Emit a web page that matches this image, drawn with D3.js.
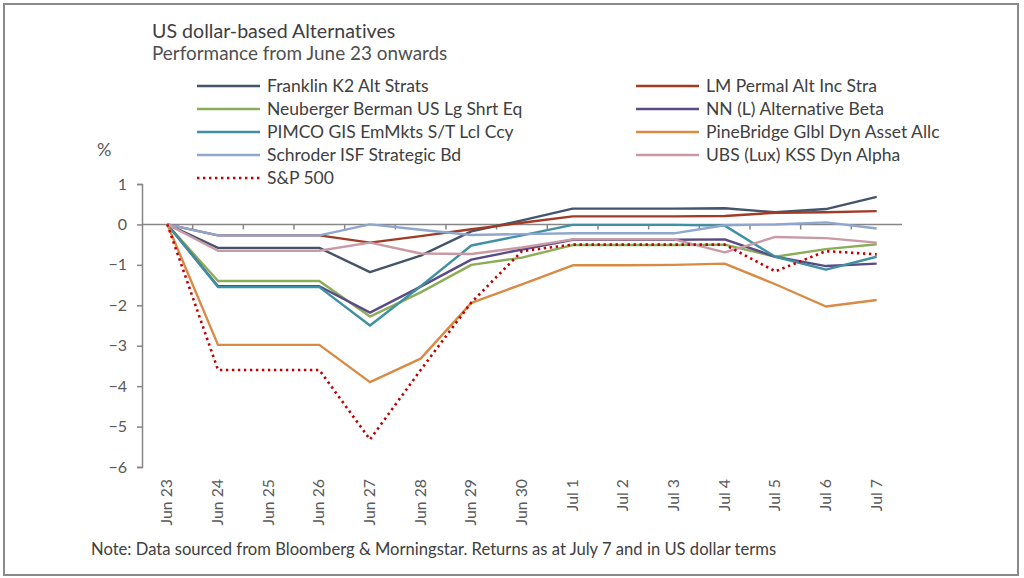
<!DOCTYPE html>
<html>
<head>
<meta charset="utf-8">
<script src="https://cdn.jsdelivr.net/npm/d3@7"></script>
<style>
  html, body { margin: 0; padding: 0; background: #fff; }
  svg { display: block; font-family: Lato, "Noto Sans", sans-serif; font-variant-ligatures: none; font-feature-settings: "liga" 0; }
</style>
</head>
<body>
<svg id="chart" width="1024" height="578"></svg>
<script>
const categories = ["Jun 23","Jun 24","Jun 25","Jun 26","Jun 27","Jun 28","Jun 29","Jun 30","Jul 1","Jul 2","Jul 3","Jul 4","Jul 5","Jul 6","Jul 7"];

const franklin   = [0,-0.58,-0.58,-0.58,-1.18,-0.77,-0.17, 0.10, 0.39, 0.39, 0.39, 0.40, 0.30, 0.38, 0.68];
const lmPermal   = [0,-0.27,-0.27,-0.27,-0.45,-0.29,-0.12, 0.04, 0.20, 0.20, 0.20, 0.21, 0.29, 0.30, 0.33];
const neuberger  = [0,-1.40,-1.40,-1.40,-2.28,-1.68,-1.00,-0.82,-0.51,-0.51,-0.51,-0.50,-0.80,-0.61,-0.49];
const nnAltBeta  = [0,-1.53,-1.53,-1.53,-2.18,-1.54,-0.87,-0.62,-0.38,-0.38,-0.38,-0.37,-0.80,-1.03,-0.97];
const pimco      = [0,-1.55,-1.55,-1.55,-2.50,-1.53,-0.52,-0.27,-0.01,-0.01,-0.01,-0.03,-0.80,-1.12,-0.80];
const pineBridge = [0,-2.98,-2.98,-2.98,-3.90,-3.32,-1.94,-1.48,-1.01,-1.01,-1.00,-0.97,-1.48,-2.03,-1.87];
const schroder   = [0,-0.27,-0.27,-0.27, 0.00,-0.13,-0.26,-0.24,-0.22,-0.22,-0.22,-0.02, 0.00, 0.05,-0.10];
const ubs        = [0,-0.65,-0.65,-0.65,-0.45,-0.72,-0.73,-0.57,-0.37,-0.37,-0.37,-0.69,-0.31,-0.34,-0.45];
const sp500      = [0,-3.60,-3.60,-3.60,-5.32,-3.60,-1.93,-0.66,-0.50,-0.50,-0.50,-0.50,-1.16,-0.66,-0.74];

const seriesNames = ["Franklin K2 Alt Strats","LM Permal Alt Inc Stra","Neuberger Berman US Lg Shrt Eq","NN (L) Alternative Beta","PIMCO GIS EmMkts S/T Lcl Ccy","PineBridge Glbl Dyn Asset Allc","Schroder ISF Strategic Bd","UBS (Lux) KSS Dyn Alpha","S&P 500"];
const seriesValues = [franklin, lmPermal, neuberger, nnAltBeta, pimco, pineBridge, schroder, ubs, sp500];
const seriesColors = ["#44546a","#a23b26","#8aae57","#5a4b86","#3e90a2","#d98b45","#8fa7cc","#c99aa5","#c00000"];
const yTicks = [1,0,-1,-2,-3,-4,-5,-6];

const svg = d3.select("#chart");

// outer border
svg.append("rect").attr("x",4).attr("y",4).attr("width",1014).attr("height",571)
  .attr("fill","none").attr("stroke","#8a8a8a").attr("stroke-width",2);

// titles
svg.append("text").attr("x",152).attr("y",38).attr("font-size",19.6).attr("fill","#404040")
  .text("US dollar-based Alternatives");
svg.append("text").attr("x",152).attr("y",60).attr("font-size",18.9).attr("fill","#505050")
  .text("Performance from June 23 onwards");

const x = d3.scaleBand().domain(categories).range([142, 902]);
const y = d3.scaleLinear().domain([-6, 1]).range([467, 184]);
const cx = d => x(d) + x.bandwidth() / 2;

// y axis
const yAxis = d3.axisLeft(y).tickValues(yTicks).tickSize(5).tickPadding(10).tickFormat(d3.format("d"));
const gy = svg.append("g").attr("transform","translate(142,0)").call(yAxis);
gy.select(".domain").attr("stroke","#868686").attr("stroke-width",1.5);
gy.selectAll(".tick line").attr("stroke","#868686").attr("stroke-width",1.5);
gy.selectAll(".tick text").attr("font-size",16).attr("fill","#595959").attr("font-family","Lato, sans-serif");

svg.append("text").attr("x",97).attr("y",156).attr("font-size",18).attr("fill","#595959").text("%");

// x axis at zero line
const gx = svg.append("g").attr("transform",`translate(0,${y(0)})`);
gx.append("line").attr("x1",x.range()[0]).attr("x2",x.range()[1]).attr("y1",0).attr("y2",0)
  .attr("stroke","#868686").attr("stroke-width",1.5);
gx.selectAll("line.tk").data(categories.slice(1)).join("line").attr("class","tk")
  .attr("x1",d=>x(d)).attr("x2",d=>x(d)).attr("y1",0).attr("y2",5)
  .attr("stroke","#868686").attr("stroke-width",1.5);

// x labels (rotated) at bottom
svg.append("g").selectAll("text").data(categories).join("text")
  .attr("transform", d => `translate(${cx(d)+5},479) rotate(-90)`)
  .attr("text-anchor","end").attr("font-size",15.8).attr("fill","#595959")
  .text(d => d);

// lines
const line = d3.line().x((d,i) => cx(categories[i])).y(d => y(d));
svg.append("g").selectAll("path").data(seriesValues).join("path")
  .attr("d", d => line(d))
  .attr("fill","none")
  .attr("stroke",(d,i)=>seriesColors[i])
  .attr("stroke-width",(d,i)=> i===8 ? 2.6 : 2.4)
  .attr("stroke-dasharray",(d,i)=> i===8 ? "2.4,3.6" : null)
  .attr("stroke-linejoin","round");

// legend
const legendPos = [
  {lx:197, ly:86},{lx:636, ly:86},
  {lx:197, ly:109},{lx:636, ly:109},
  {lx:197, ly:132},{lx:636, ly:132},
  {lx:197, ly:155},{lx:636, ly:155},
  {lx:197, ly:178}
];
const lg = svg.append("g").selectAll("g").data(seriesNames).join("g")
  .attr("transform",(d,i)=>`translate(${legendPos[i].lx},${legendPos[i].ly})`);
lg.append("line").attr("x1",0).attr("x2",63).attr("y1",0).attr("y2",0)
  .attr("stroke",(d,i)=>seriesColors[i])
  .attr("stroke-width",(d,i)=> i===8 ? 2.6 : 2.4)
  .attr("stroke-dasharray",(d,i)=> i===8 ? "2.4,3.6" : null);
lg.append("text").attr("x",70).attr("y",6).attr("font-size",17.5).attr("fill","#404040").text(d=>d);

// note
svg.append("text").attr("x",91).attr("y",555).attr("font-size",16.6).attr("fill","#404040")
  .text("Note: Data sourced from Bloomberg & Morningstar. Returns as at July 7 and in US dollar terms");
</script>
</body>
</html>
